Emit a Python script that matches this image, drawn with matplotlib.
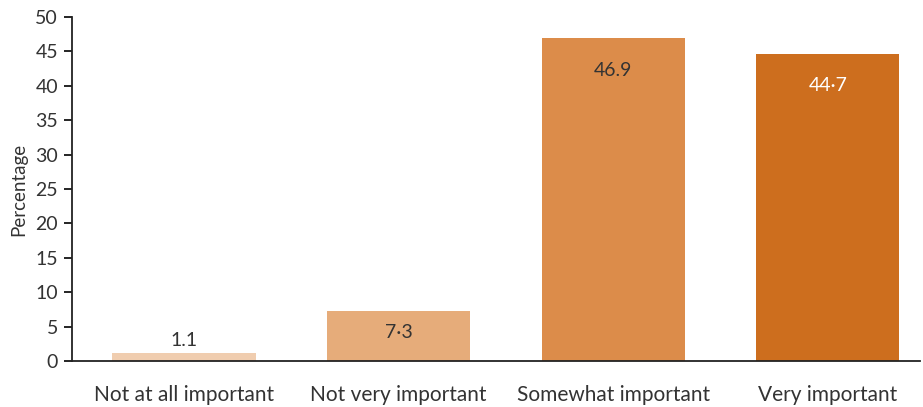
import matplotlib.pyplot as plt

categories = ['Not at all important', 'Not very important', 'Somewhat important', 'Very important']
values = [1.1, 7.3, 46.9, 44.7]
value_labels = ['1.1', '7·3', '46.9', '44·7']
colors = ['#F0CDAF', '#E6AC7A', '#DC8C4A', '#CD6E1E']
label_colors = ['#333333', '#333333', '#333333', '#FFFFFF']
yticks = list(range(0, 51, 5))

plt.rcParams['font.family'] = ['Lato', 'DejaVu Sans']

fig = plt.figure(figsize=(9.23, 4.07), dpi=100)
ax = fig.add_axes([0.078, 0.113, 0.9188, 0.845])

x = list(range(len(categories)))
ax.bar(x, values, width=0.667, color=colors)

for xi, v, lab, c in zip(x, values, value_labels, label_colors):
    if v < 3:
        ax.annotate(lab, (xi, v), xytext=(0, 13), textcoords='offset pixels',
                    ha='center', va='center', fontsize=14, color=c)
    else:
        off = -22 if v < 10 else -32
        ax.annotate(lab, (xi, v), xytext=(0, off), textcoords='offset pixels',
                    ha='center', va='center', fontsize=14, color=c)

ax.set_xlim(-0.522, 3.43)
ax.set_ylim(0, 50)
ax.set_yticks(yticks)
ax.set_xticks(x)
ax.set_xticklabels(categories, fontsize=15, color='#333333')
ax.tick_params(axis='y', labelsize=14, labelcolor='#333333', length=6, width=1.2, pad=4)
ax.tick_params(axis='x', length=0, pad=17)
ax.set_ylabel('Percentage', fontsize=13.5, color='#333333', labelpad=6)

for side in ['top', 'right']:
    ax.spines[side].set_visible(False)
for side in ['left', 'bottom']:
    ax.spines[side].set_linewidth(1.3)
    ax.spines[side].set_color('#222222')

fig.savefig('out.png', dpi=100)
